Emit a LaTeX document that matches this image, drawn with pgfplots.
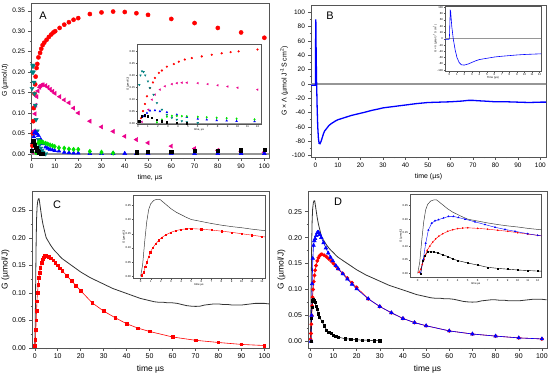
\documentclass[border=0pt]{standalone}
\usepackage{pgfplots}
\pgfplotsset{compat=1.18}
\usepackage{pgfplotstable}
\usepackage{fontspec}
\setmainfont{Liberation Sans}
\definecolor{oteal}{RGB}{0,128,128}
\definecolor{ogreen}{RGB}{0,225,0}
\definecolor{frm}{RGB}{85,85,85}
\definecolor{zl}{RGB}{150,150,150}

% ---------------- Panel A data ----------------
\pgfplotstableread{
t y
0.3 0.02
0.5 0.05
0.7 0.08
0.9 0.112
1.2 0.147
1.5 0.17
1.7 0.189
2.1 0.21
2.4 0.22
2.9 0.236
3.6 0.247
4.1 0.257
4.7 0.266
5.4 0.272
6.4 0.279
7.4 0.286
8.4 0.292
9.3 0.297
10.1 0.3
12 0.308
14 0.316
16 0.322
18 0.328
20 0.332
25 0.342
30 0.346
35 0.348
40 0.347
45 0.344
50 0.34
60 0.33
70 0.32
80 0.308
90 0.297
100 0.284
}\Ared
\pgfplotstableread{
t y
0.4 0.005
0.7 0.028
1.05 0.056
1.4 0.098
1.7 0.119
2.2 0.14
2.7 0.154
3.4 0.163
3.9 0.167
4.4 0.169
4.9 0.169
6 0.167
7 0.163
8 0.158
9 0.153
10 0.148
12 0.14
14 0.132
16 0.125
18 0.112
20 0.1
25 0.08
30 0.066
35 0.055
40 0.043
45 0.035
50 0.027
60 0.019
70 0.013
80 0.009
90 0.0065
100 0.004
}\Amag
\pgfplotstableread{
t y
0.13 0.16
0.25 0.2
0.4 0.217
0.56 0.214
0.73 0.2
1.0 0.175
1.2 0.147
1.56 0.119
1.9 0.084
2.4 0.056
2.9 0.035
3.4 0.022
3.9 0.014
4.4 0.008
4.9 0.004
6 0.0005
}\Ateal
\pgfplotstableread{
t y
0.23 0.007
0.56 0.028
0.9 0.042
1.2 0.052
1.7 0.053
2.2 0.049
2.9 0.045
3.9 0.035
4.9 0.025
6 0.017
6.9 0.014
7.9 0.011
8.9 0.01
9.9 0.008
11.7 0.007
14 0.004
16 0.003
18 0.002
20 0.002
25 0.001
30 0.001
35 0.001
40 0.001
45 0.001
50 0.001
60 0.001
70 0.001
80 0.001
90 0.001
100 0.001
}\Ablue
\pgfplotstableread{
t y
1.9 0.003
2.4 0.014
2.9 0.027
3.4 0.03
3.9 0.03
4.4 0.029
4.9 0.028
6 0.026
6.9 0.024
7.9 0.022
8.9 0.02
9.9 0.018
11.7 0.015
14 0.014
16 0.012
18 0.011
20 0.011
25 0.006
30 0.004
35 0.002
}\Agreen
\pgfplotstableread{
t y
0.13 0.008
0.4 0.029
0.66 0.033
1.0 0.029
1.4 0.022
1.9 0.015
2.4 0.008
2.9 0.004
3.9 0.001
4.9 0.0
45 0.004
50 0.005
60 0.006
70 0.007
80 0.008
90 0.009
100 0.01
}\Ablack

% ---------------- Panel B data ----------------
\pgfplotstableread{
t y
-2.5 -2
-1 -2
-0.05 -2
0 10
0.1 90
0.15 88
0.3 40
0.5 0
0.75 -35
1.0 -60
1.3 -76
1.6 -83
2.0 -83.5
2.5 -80
3 -75
3.5 -70
4 -66
5 -62
6 -58
7 -55.5
8 -53.5
9 -51.5
10 -50
11 -49
12 -48
14 -46
16 -44
18 -42.5
20 -41
22 -39.5
25 -37
28 -35
30 -33.5
35 -31.5
40 -29.5
45 -27.5
50 -26
55 -25.5
60 -25
65 -24
68 -23
70 -23
72 -23.5
75 -24
80 -25
85 -25
90 -25.5
95 -26
100 -25.5
103 -25.5
}\Bdat

% ---------------- Panels C/D data ----------------
\pgfplotstableread{
t y
0 0
0.2 0.04
0.4 0.12
0.6 0.19
0.8 0.235
1.0 0.255
1.3 0.267
1.6 0.271
1.9 0.271
2.2 0.262
2.6 0.25
3.0 0.238
3.5 0.226
4.0 0.217
4.5 0.208
5 0.2
6 0.193
7 0.186
8 0.18
9 0.175
10 0.171
11 0.166
12 0.162
13 0.159
14 0.156
15 0.153
16 0.15
17 0.147
18 0.144
19 0.141
20 0.138
22 0.133
24 0.128
26 0.124
28 0.12
30 0.116
32 0.112
34 0.108
36 0.105
38 0.102
40 0.099
42 0.096
44 0.093
46 0.090
48 0.088
50 0.086
52 0.084
54 0.083
56 0.083
58 0.082
60 0.082
62 0.081
64 0.079
66 0.077
68 0.076
70 0.0755
72 0.076
74 0.078
76 0.079
78 0.08
80 0.08
82 0.079
84 0.079
86 0.078
88 0.078
90 0.078
92 0.079
94 0.08
96 0.081
98 0.081
100 0.081
102 0.08
}\Ctot
\pgfplotstableread{
t y
0.13 0.004
0.3 0.015
0.46 0.033
0.62 0.05
0.79 0.068
0.95 0.085
1.2 0.1
1.5 0.115
1.8 0.127
2.1 0.137
2.5 0.146
3 0.155
3.5 0.161
4 0.165
4.5 0.167
5 0.168
6 0.166
7 0.163
8 0.159
9 0.155
10 0.15
11 0.145
12 0.14
14 0.131
16 0.122
18 0.113
20 0.104
25 0.082
30 0.067
35 0.055
40 0.044
45 0.036
50 0.03
60 0.02
70 0.014
80 0.01
90 0.0065
100 0.0045
}\Cred
\pgfplotstableread{
t y
0.3 0
0.55 0.05
0.8 0.111
1.07 0.16
1.4 0.185
1.73 0.194
2.07 0.198
2.57 0.204
3.07 0.21
3.57 0.21
4.07 0.206
4.73 0.2
5.73 0.19
6.73 0.18
7.73 0.17
8.73 0.162
9.73 0.155
11 0.146
12 0.14
14 0.13
16 0.12
18 0.11
20 0.101
25 0.082
30 0.067
35 0.055
40 0.044
45 0.036
50 0.03
60 0.02
70 0.014
80 0.01
90 0.0065
100 0.0045
}\Dblue
\pgfplotstableread{
t y
0.3 0.0
0.5 0.045
0.7 0.065
1.0 0.078
1.3 0.08
1.6 0.078
2 0.075
2.5 0.068
3 0.062
3.5 0.053
4 0.047
5 0.038
6 0.03
7 0.022
8 0.018
9 0.015
10 0.012
11 0.01
12 0.008
15 0.005
17.5 0.004
20 0.003
22.5 0.002
25 0.002
27.5 0.001
30 0.001
}\Dblack

\pgfplotsset{
  org/.style={scale only axis, anchor=south west,
    axis line style={frm, line width=0.8bp},
    tick align=outside, xtick pos=bottom, ytick pos=left,
    major tick length=2.6bp, minor tick length=1.4bp,
    every tick/.style={frm, line width=0.5bp},
    /pgf/number format/assume math mode=true,
    tick label style={font=\fontsize{6.5}{7}\selectfont},
    label style={font=\fontsize{7}{8}\selectfont},
    ylabel shift=-3bp, xlabel shift=-1bp,
    clip=true},
  ins/.style={org, axis background/.style={fill=white},
    axis line style={frm, line width=0.45bp},
    every tick/.style={frm, line width=0.3bp},
    major tick length=1.2bp, minor tick length=0.6bp,
    ylabel shift=-1bp, xlabel shift=-0.5bp,
    tick label style={font=\fontsize{2.8}{3}\selectfont, inner sep=0.6bp},
    label style={font=\fontsize{2.8}{3}\selectfont, inner sep=0.6bp}},
  two/.style={yticklabel style={/pgf/number format/.cd, fixed, fixed zerofill, precision=2}},
}

\begin{document}
\begin{tikzpicture}
\useasboundingbox (0,0) rectangle (550bp,374bp);

% ================= Panel A =================
\begin{axis}[org, two, at={(31bp,216bp)}, width=238bp, height=155bp,
  xmin=-0.3, xmax=102, ymin=-0.01, ymax=0.369,
  xtick={0,10,...,100}, minor x tick num=1,
  ytick={0,0.05,...,0.35}, minor y tick num=1,
  xlabel={time, µs}, ylabel={G (µmol/J)}]
\addplot[zl, line width=1.4bp] coordinates {(-5,0) (110,0)};
\addplot[only marks, mark=*, mark size=2.1bp, red] table {\Ared};
\addplot[only marks, mark=triangle*, mark size=2.4bp, magenta, mark options={rotate=90}] table {\Amag};
\addplot[only marks, mark=triangle*, mark size=2.4bp, oteal, mark options={rotate=180}] table {\Ateal};
\addplot[only marks, mark=triangle*, mark size=2.3bp, blue] table {\Ablue};
\addplot[only marks, mark=diamond*, mark size=2.3bp, ogreen] table {\Agreen};
\addplot[only marks, mark=square*, mark size=1.6bp, black] table {\Ablack};
\end{axis}
\node[font=\fontsize{11}{12}\selectfont] at (43bp,358bp) {A};

\begin{axis}[ins, two, at={(137bp,250bp)}, width=124bp, height=80bp,
  xmin=-0.1, xmax=12.35, ymin=-0.004, ymax=0.331,
  xtick={0,1,...,12}, ytick={0,0.05,...,0.30},
  xlabel={time, µs}, ylabel={G (µmol/J)}]
\addplot[zl, line width=0.9bp] coordinates {(-1,0) (13,0)};
\addplot[only marks, mark=*, mark size=0.9bp, red] table {\Ared};
\addplot[only marks, mark=triangle*, mark size=1bp, magenta, mark options={rotate=90}] table {\Amag};
\addplot[only marks, mark=triangle*, mark size=1bp, oteal, mark options={rotate=180}] table {\Ateal};
\addplot[only marks, mark=triangle*, mark size=1bp, blue] table {\Ablue};
\addplot[only marks, mark=diamond*, mark size=1bp, ogreen] table {\Agreen};
\addplot[only marks, mark=square*, mark size=0.7bp, black] table {\Ablack};
\end{axis}

% ================= Panel B =================
\begin{axis}[org, at={(311bp,217bp)}, width=235bp, height=152bp,
  xmin=-2, xmax=102.5, ymin=-102, ymax=110,
  xtick={0,10,...,100}, minor x tick num=1,
  ytick={-100,-80,...,100}, minor y tick num=1,
  xlabel={time (µs)}, ylabel={G × Λ (µmol J\textsuperscript{-1}S cm\textsuperscript{2})}]
\addplot[zl, line width=1.4bp] coordinates {(-5,0) (110,0)};
\addplot[blue, line width=1.3bp] table {\Bdat};
\end{axis}
\node[font=\fontsize{11}{12}\selectfont] at (330bp,358bp) {B};

\begin{axis}[ins, at={(445bp,302.5bp)}, width=96bp, height=65.5bp,
  xmin=-0.6, xmax=12.2, ymin=-104, ymax=104,
  xtick={0,1,...,12}, ytick={-100,-80,...,100},
  xlabel={Time (µs)}, ylabel={G × Λ (µmol J\textsuperscript{-1}S cm\textsuperscript{2})}]
\addplot[zl, line width=0.8bp] coordinates {(-1,0) (13,0)};
\addplot[blue, line width=0.6bp] table {\Bdat};
\end{axis}

% ================= Panel C =================
\begin{axis}[org, two, at={(32bp,26bp)}, width=237bp, height=157bp,
  xmin=-1.2, xmax=102, ymin=0, ymax=0.285,
  tick label style={font=\fontsize{7}{8}\selectfont},
  label style={font=\fontsize{8.5}{10}\selectfont},
  ylabel shift=-4bp,
  xtick={0,10,...,100}, minor x tick num=1,
  ytick={0,0.05,...,0.25}, minor y tick num=1,
  xlabel={time µs}, ylabel={G (µmol/J)}]
\addplot[black!80, line width=0.8bp] table {\Ctot};
\addplot[red, line width=0.6bp, mark=square*, mark size=1.3bp] table {\Cred};
\end{axis}
\node[font=\fontsize{11}{12}\selectfont] at (57bp,169bp) {C};

\begin{axis}[ins, two, at={(133bp,95.3bp)}, width=132bp, height=83.4bp,
  xmin=-0.75, xmax=12.3, ymin=-0.008, ymax=0.285,
  xtick={0,1,...,12}, ytick={0,0.05,...,0.25},
  xlabel={time µs}, ylabel={G (µmol/J)}]
\addplot[black!75, line width=0.5bp] table {\Ctot};
\addplot[red, line width=0.4bp, mark=square*, mark size=0.6bp] table {\Cred};
\end{axis}

% ================= Panel D =================
\begin{axis}[org, two, at={(308bp,26bp)}, width=239bp, height=157bp,
  xmin=-1, xmax=102.2, ymin=-0.013, ymax=0.29,
  tick label style={font=\fontsize{7}{8}\selectfont},
  label style={font=\fontsize{8.5}{10}\selectfont},
  ylabel shift=-4bp,
  xtick={0,10,...,100}, minor x tick num=1,
  ytick={0,0.05,...,0.25}, minor y tick num=1,
  xlabel={time µs}, ylabel={G (µmol/J)}]
\addplot[black!80, line width=0.8bp] table {\Ctot};
\addplot[red, line width=0.6bp, mark=*, mark size=1.6bp] table {\Cred};
\addplot[blue, line width=0.6bp, mark=triangle*, mark size=2bp] table {\Dblue};
\addplot[black, line width=0.5bp, mark=square*, mark size=1.1bp] table {\Dblack};
\end{axis}
\node[font=\fontsize{11}{12}\selectfont] at (338bp,172bp) {D};

\begin{axis}[ins, two, at={(410bp,96.7bp)}, width=131.7bp, height=83.3bp,
  xmin=-0.77, xmax=12.4, ymin=-0.015, ymax=0.293,
  xtick={0,1,...,12}, ytick={0,0.05,...,0.25},
  xlabel={time µs}, ylabel={G (µmol/J)}]
\addplot[black!75, line width=0.5bp] table {\Ctot};
\addplot[red, line width=0.4bp, mark=*, mark size=0.6bp] table {\Cred};
\addplot[blue, line width=0.4bp, mark=triangle*, mark size=0.8bp] table {\Dblue};
\addplot[black, line width=0.4bp, mark=square*, mark size=0.5bp] table {\Dblack};
\end{axis}
\end{tikzpicture}
\end{document}
